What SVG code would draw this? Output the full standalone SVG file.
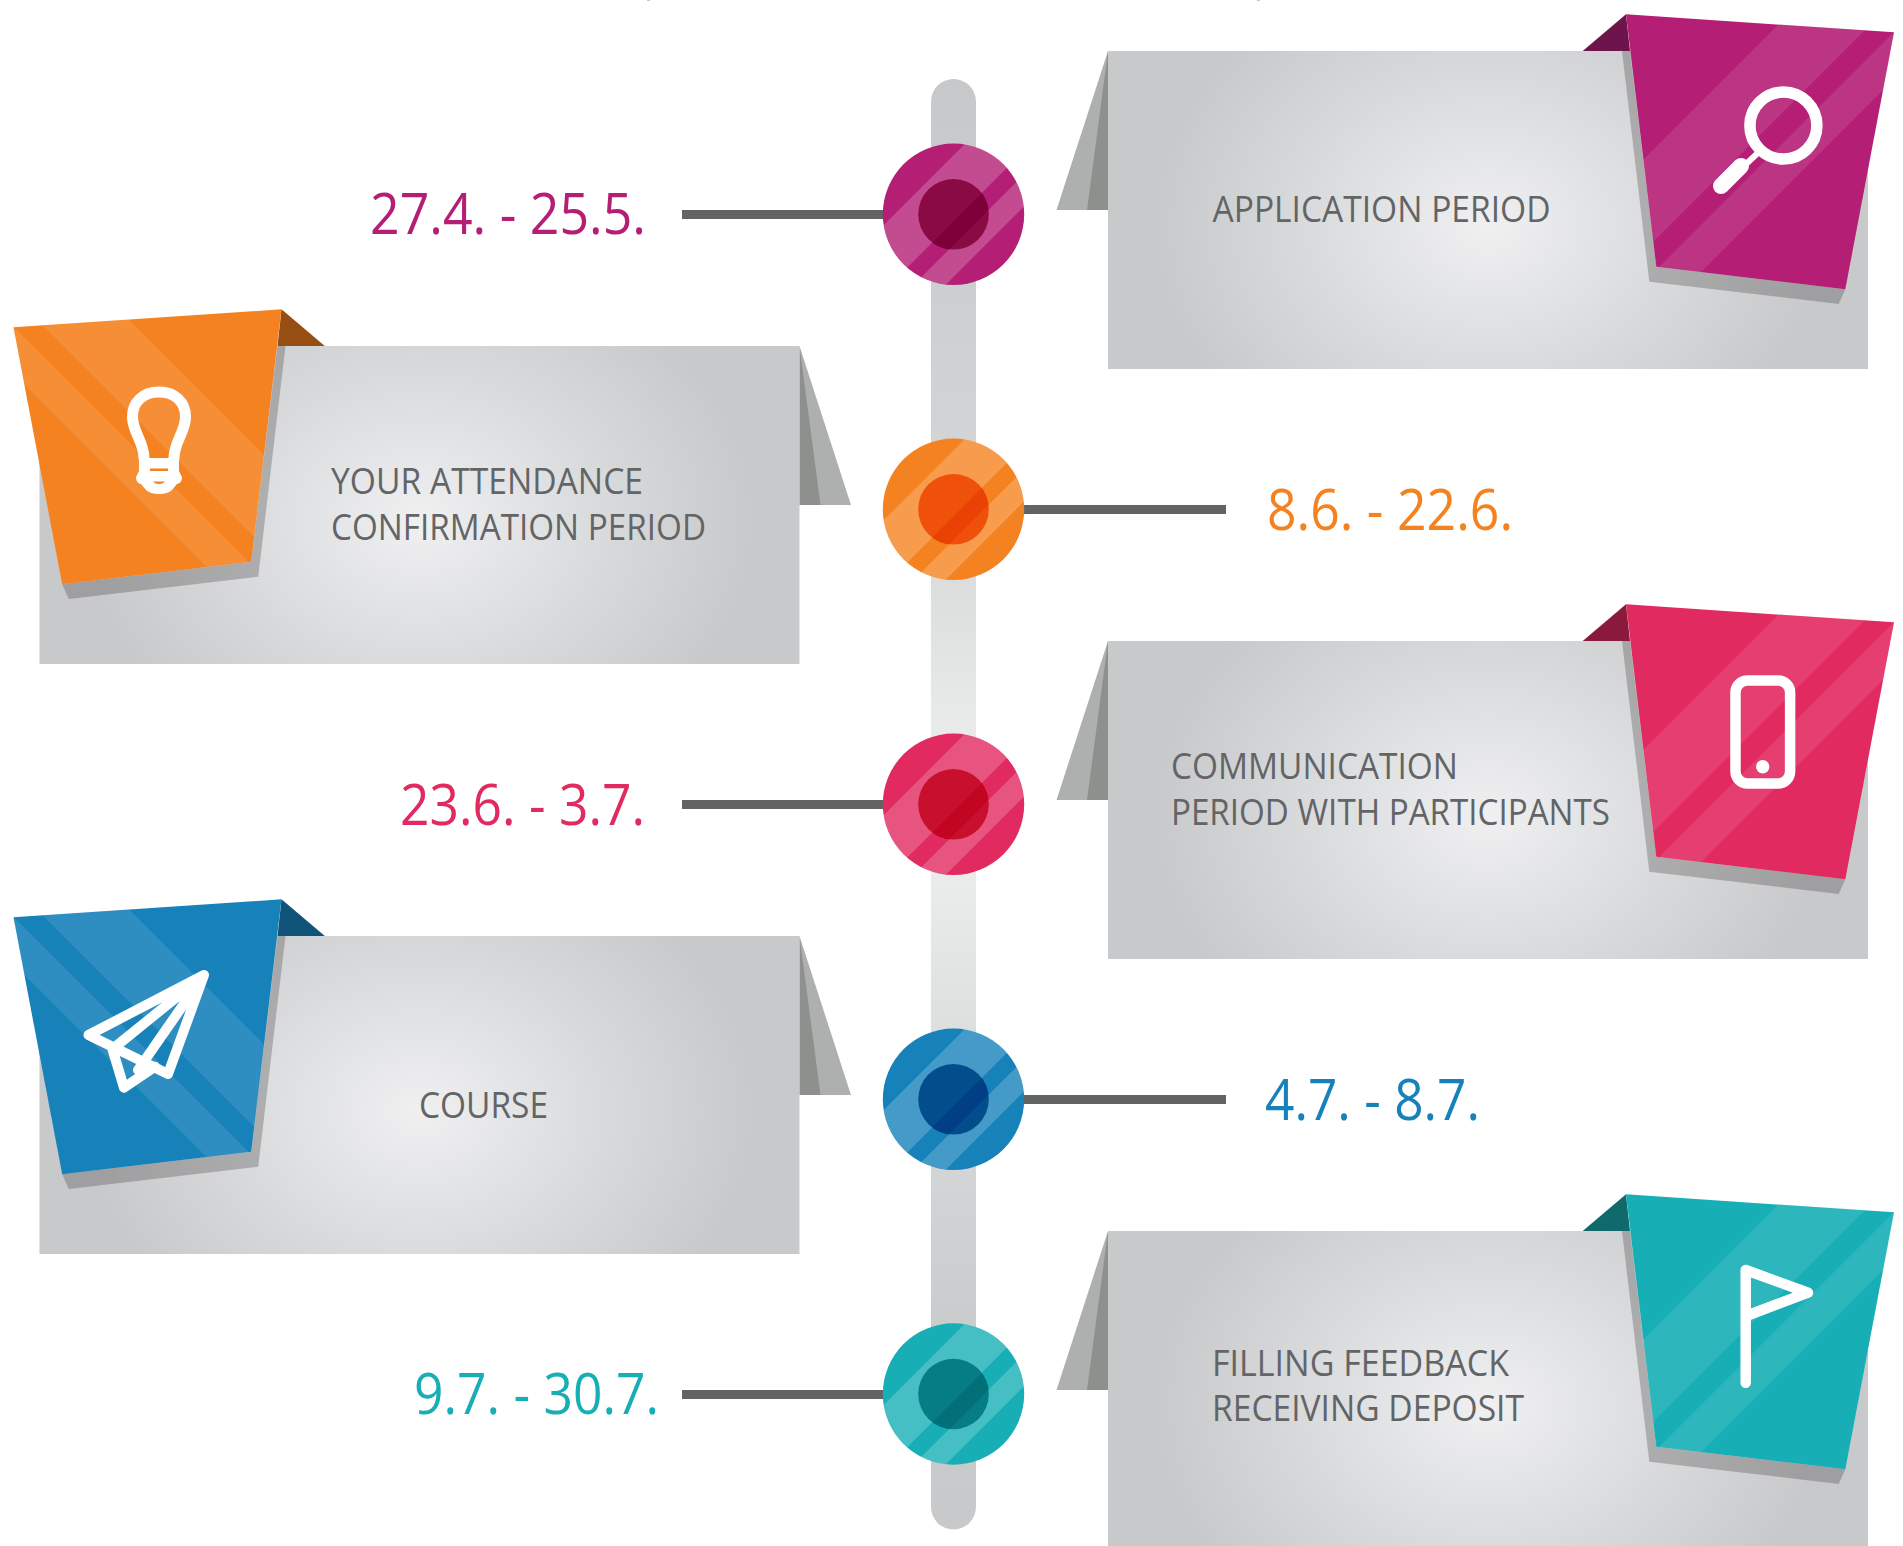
<svg xmlns="http://www.w3.org/2000/svg" width="1903" height="1546" viewBox="0 0 1903 1546">
<style>
.lbl{font-family:"Open Sans","Noto Sans",sans-serif;font-size:36.5px;fill:#636466}
.date{font-family:"Open Sans","Noto Sans",sans-serif;font-size:57px}
.ico{fill:none;stroke:#fff;stroke-linecap:round;stroke-linejoin:round}
.conn{fill:#626463}
.mag{fill:#b41f75}.org{fill:#f58220}.pnk{fill:#e12a60}.blu{fill:#1782ba}.tea{fill:#17aeb6}
</style>
<defs>
<radialGradient id="pg" gradientUnits="userSpaceOnUse" cx="0" cy="0" r="335" gradientTransform="translate(380,175) scale(1,.8)">
<stop offset="0" stop-color="#f0f0f1"/><stop offset=".3" stop-color="#e3e4e6"/><stop offset=".6" stop-color="#d7d8da"/><stop offset="1" stop-color="#c8c9cb"/>
</radialGradient>
<linearGradient id="tg" x1="0" y1="0" x2="0" y2="1">
<stop offset="0" stop-color="#c7c8ca"/><stop offset=".24" stop-color="#d2d3d4"/><stop offset=".35" stop-color="#dcdddd"/><stop offset=".445" stop-color="#e9eaea"/><stop offset=".555" stop-color="#eaebeb"/><stop offset=".65" stop-color="#dedfdf"/><stop offset=".76" stop-color="#d3d4d5"/><stop offset=".85" stop-color="#cbcccd"/><stop offset="1" stop-color="#c8c9cb"/>
</linearGradient>
<polygon id="rb" points="518,-36.7 786,-18.7 737.3,238.3 548.3,215.7"/>
<clipPath id="rc"><use href="#rb"/></clipPath>
<clipPath id="dc"><circle r="70.7"/></clipPath>
<clipPath id="ic"><circle r="35.3"/></clipPath>
<g id="paper">
<polygon points="-51.5,159 0,0 0,159" fill="#aeb0af"/>
<polygon points="-21,159 0,0 0,159" fill="#8e908e"/>
<rect width="760" height="318" fill="url(#pg)"/>
<polygon points="514,0 541.3,230.7 730.7,253 737.3,238.3 548.3,215.7 522,0" fill="#231f20" fill-opacity=".25"/>
</g>
<polygon id="fd" points="474.7,0 518,-36.7 522,0"/>
<g id="st" clip-path="url(#rc)" fill="#fff" fill-opacity=".1">
<polygon points="744,-100 836,-100 336,400 244,400"/>
<polygon points="867,-100 914,-100 414,400 367,400"/>
</g>
<g id="db" clip-path="url(#dc)" fill="#fff" fill-opacity=".2">
<polygon points="41,-100 107,-100 -93,100 -159,100"/>
<polygon points="130.7,-100 162.7,-100 -37.3,100 -69.3,100"/>
</g>
<g id="is" clip-path="url(#ic)"><polygon points="107,-100 130.7,-100 -69.3,100 -93,100"/></g>
</defs>
<rect width="1903" height="1546" fill="#fff"/>
<rect x="647" y="0" width="3" height="1" fill="#c8c8c8"/>
<rect x="1257" y="0" width="3" height="1" fill="#c8c8c8"/>

<rect id="timeline" x="931" y="79" width="45" height="1450.5" rx="22.5" fill="url(#tg)"/>

<g id="connectors">
<rect class="conn" x="682" y="210" width="205" height="9"/>
<rect class="conn" x="1020" y="505" width="206" height="9"/>
<rect class="conn" x="682" y="800" width="205" height="9"/>
<rect class="conn" x="1020" y="1095" width="206" height="9"/>
<rect class="conn" x="682" y="1390" width="205" height="9"/>
</g>

<g id="card-application">
<g transform="translate(1108,51)"><use href="#paper"/><use href="#fd" fill="#6e144c"/><use href="#rb" class="mag"/><use href="#st"/></g>
<circle class="ico" cx="1783.400" cy="125.600" r="33.500" stroke-width="11.500"/>
<path class="ico" d="M1761 150L1745 165" stroke-width="6"/>
<path class="ico" d="M1741 166L1721 186" stroke-width="16"/>
<text class="lbl" x="1212.500" y="222" textLength="338" lengthAdjust="spacingAndGlyphs">APPLICATION PERIOD</text>
</g>

<g id="card-attendance">
<g transform="matrix(-1 0 0 1 799.500 346)"><use href="#paper"/><use href="#fd" fill="#964e12"/><use href="#rb" class="org"/><use href="#st"/></g>
<path class="ico" d="M144 458C144 442 132.500 432 132.500 417C132.500 402 143 392 159 392C175 392 185.500 402 185.500 417C185.500 432 174 442 174 458" stroke-width="11"/>
<path fill="#fff" d="M139 458H179V471L182 477Q182 483 177 484L172 490Q168 494 159 494Q150 494 146 490L141 484Q136 483 136 477L139 471Z"/>
<rect x="150" y="468.500" width="18" height="2.500" fill="#f58220"/>
<path d="M153 481.500H165Q163 484 159 484Q155 484 153 481.500Z" fill="#f58220"/>
<text class="lbl" x="331" y="493.500" textLength="312" lengthAdjust="spacingAndGlyphs">YOUR ATTENDANCE</text>
<text class="lbl" x="331" y="539.500" textLength="375" lengthAdjust="spacingAndGlyphs">CONFIRMATION PERIOD</text>
</g>

<g id="card-communication">
<g transform="translate(1108,641)"><use href="#paper"/><use href="#fd" fill="#8a1a3c"/><use href="#rb" class="pnk"/><use href="#st"/></g>
<rect class="ico" x="1735.500" y="680.500" width="54.600" height="103" rx="12" stroke-width="10.500"/>
<circle cx="1762.700" cy="766.700" r="6.700" fill="#fff"/>
<text class="lbl" x="1171" y="779" textLength="287" lengthAdjust="spacingAndGlyphs">COMMUNICATION</text>
<text class="lbl" x="1171" y="824.500" textLength="439" lengthAdjust="spacingAndGlyphs">PERIOD WITH PARTICIPANTS</text>
</g>

<g id="card-course">
<g transform="matrix(-1 0 0 1 799.500 936)"><use href="#paper"/><use href="#fd" fill="#0f5478"/><use href="#rb" class="blu"/><use href="#st"/></g>
<path class="ico" d="M204 975L88.500 1035L168 1074ZM204 975L115 1047M204 975L138 1070M111.700 1046.700L124 1087.700L155 1066.700" stroke-width="10"/>
<text class="lbl" x="419" y="1118" textLength="129" lengthAdjust="spacingAndGlyphs">COURSE</text>
</g>

<g id="card-feedback">
<g transform="translate(1108,1231)"><use href="#paper"/><use href="#fd" fill="#106a6c"/><use href="#rb" class="tea"/><use href="#st"/></g>
<path class="ico" d="M1745.700 1382.700V1270L1808 1292.700L1746 1316" stroke-width="10.500"/>
<text class="lbl" x="1212" y="1375.500" textLength="297" lengthAdjust="spacingAndGlyphs">FILLING FEEDBACK</text>
<text class="lbl" x="1212" y="1421" textLength="312" lengthAdjust="spacingAndGlyphs">RECEIVING DEPOSIT</text>
</g>

<g id="dot-1" transform="translate(953.500,214.300)"><circle r="70.700" class="mag"/><use href="#db"/><circle r="35.300" fill="#8a0a44"/><use href="#is" fill="#7d0038"/></g>
<g id="dot-2" transform="translate(953.500,509.300)"><circle r="70.700" class="org"/><use href="#db"/><circle r="35.300" fill="#ef500a"/><use href="#is" fill="#ea4204"/></g>
<g id="dot-3" transform="translate(953.500,804.300)"><circle r="70.700" class="pnk"/><use href="#db"/><circle r="35.300" fill="#c8102e"/><use href="#is" fill="#c20520"/></g>
<g id="dot-4" transform="translate(953.500,1099.300)"><circle r="70.700" class="blu"/><use href="#db"/><circle r="35.300" fill="#044d8c"/><use href="#is" fill="#003f85"/></g>
<g id="dot-5" transform="translate(953.500,1394)"><circle r="70.700" class="tea"/><use href="#db"/><circle r="35.300" fill="#067c85"/><use href="#is" fill="#027079"/></g>

<g id="date-1"><text class="date mag" x="370" y="234" textLength="276" lengthAdjust="spacingAndGlyphs">27.4. - 25.5.</text></g>
<g id="date-2"><text class="date org" x="1267" y="529.500" textLength="246" lengthAdjust="spacingAndGlyphs">8.6. - 22.6.</text></g>
<g id="date-3"><text class="date pnk" x="400" y="824.500" textLength="245" lengthAdjust="spacingAndGlyphs">23.6. - 3.7.</text></g>
<g id="date-4"><text class="date blu" x="1265" y="1119.500" textLength="215" lengthAdjust="spacingAndGlyphs">4.7. - 8.7.</text></g>
<g id="date-5"><text class="date tea" x="414" y="1414" textLength="245" lengthAdjust="spacingAndGlyphs">9.7. - 30.7.</text></g>
</svg>
